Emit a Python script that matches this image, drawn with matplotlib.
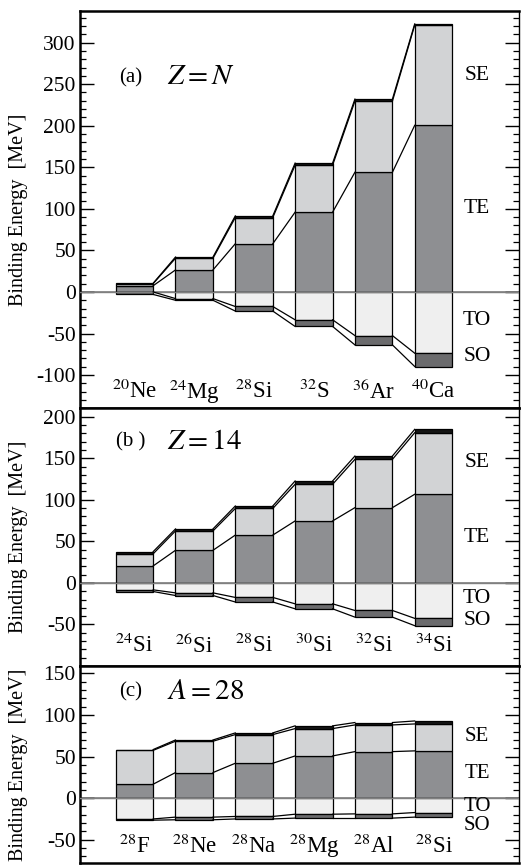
import matplotlib
matplotlib.use("Agg")
import matplotlib.pyplot as plt
from matplotlib.ticker import MultipleLocator
import numpy as np

plt.rcParams['font.family'] = 'serif'
plt.rcParams['font.serif'] = ['Liberation Serif', 'DejaVu Serif']
plt.rcParams['mathtext.fontset'] = 'stix'

# Panel (a) Z = N : boundaries of each stacked bar (MeV)
nucleiA = [r'$^{20}$Ne', r'$^{24}$Mg', r'$^{28}$Si', r'$^{32}$S', r'$^{36}$Ar', r'$^{40}$Ca']
teTopA = [7.5, 26.5, 58.0, 96.0, 144.0, 200.5]
seTopA = [10.0, 40.5, 89.5, 152.5, 229.5, 321.0]
totalA = [10.5, 42.0, 91.5, 155.0, 232.0, 322.5]
toBotA = [0.0, -8.0, -17.5, -33.5, -52.5, -73.7]
soBotA = [-3.0, -10.0, -23.0, -41.5, -63.7, -89.7]

# Panel (b) Z = 14
nucleiB = [r'$^{24}$Si', r'$^{26}$Si', r'$^{28}$Si', r'$^{30}$Si', r'$^{32}$Si', r'$^{34}$Si']
teTopB = [20.4, 39.2, 57.5, 74.5, 90.5, 106.6]
seTopB = [35.0, 62.5, 89.5, 118.6, 148.6, 180.7]
totalB = [37.6, 64.9, 92.5, 122.6, 152.6, 184.7]
toBotB = [-8.4, -12.0, -17.5, -25.2, -33.2, -42.7]
soBotB = [-10.4, -15.2, -23.0, -31.2, -41.2, -51.5]

# Panel (c) A = 28
nucleiC = [r'$^{28}$F', r'$^{28}$Ne', r'$^{28}$Na', r'$^{28}$Mg', r'$^{28}$Al', r'$^{28}$Si']
teTopC = [16.8, 30.8, 42.0, 50.8, 56.0, 56.9]
seTopC = [57.5, 68.5, 76.5, 83.7, 88.1, 89.3]
totalC = [58.5, 70.0, 78.5, 87.0, 91.0, 92.9]
toBotC = [-25.0, -22.8, -22.0, -19.3, -18.9, -17.3]
soBotC = [-26.5, -26.0, -25.0, -24.0, -24.0, -22.8]

termNames = ['SE', 'TE', 'TO', 'SO']

colTE = '#8e8f92'
colSE = '#d2d3d5'
colTO = '#efefef'
colSO = '#6b6b6d'
colBand = '#151515'

panels = [
    dict(tag='(a)', title=r'$Z = N$', nuclei=nucleiA, te=teTopA, se=seTopA, tot=totalA,
         to=toBotA, so=soBotA, ylim=(-140, 338), ticks=(-100, 300),
         titleY=258, labelY=-120, termY=[260, 100, -34, -78], termSize=15.5),
    dict(tag='(b )', title=r'$Z = 14$', nuclei=nucleiB, te=teTopB, se=seTopB, tot=totalB,
         to=toBotB, so=soBotB, ylim=(-100, 210), ticks=(-50, 200),
         titleY=170, labelY=-75, termY=[145, 55, -19, -45], termSize=15.5),
    dict(tag='(c)', title=r'$A = 28$', nuclei=nucleiC, te=teTopC, se=seTopC, tot=totalC,
         to=toBotC, so=soBotC, ylim=(-78, 159), ticks=(-50, 150),
         titleY=128, labelY=-58, termY=[74, 30, -10, -33], termSize=15),
]

heights = [p['ylim'][1] - p['ylim'][0] for p in panels]

fig = plt.figure(figsize=(5.21, 8.65), dpi=100)
gs = fig.add_gridspec(3, 1, height_ratios=heights, hspace=0,
                      left=80 / 521, right=519 / 521, top=1 - 11 / 865, bottom=2 / 865)

width = 0.627

for k, p in enumerate(panels):
    ax = fig.add_subplot(gs[k])
    x = np.arange(1, len(p['nuclei']) + 1)
    te = np.array(p['te'])
    se = np.array(p['se'])
    tot = np.array(p['tot'])
    to = np.array(p['to'])
    so = np.array(p['so'])

    ax.axhline(0, color='#808080', lw=1.2, zorder=1)

    # stacked bars
    ax.bar(x, te, width, bottom=0, color=colTE, edgecolor='black', lw=0.9, zorder=2)
    ax.bar(x, se - te, width, bottom=te, color=colSE, edgecolor='black', lw=0.9, zorder=2)
    ax.bar(x, tot - se, width, bottom=se, color=colBand, edgecolor='black', lw=0.9, zorder=2)
    ax.bar(x, to, width, bottom=0, color=colTO, edgecolor='black', lw=0.9, zorder=2)
    ax.bar(x, so - to, width, bottom=to, color=colSO, edgecolor='black', lw=0.9, zorder=2)
    ax.axhline(0, color='#808080', lw=1.0, zorder=3)

    # connecting lines between neighbouring bars
    for vals in (tot, se, te, to, so):
        for i in range(len(x) - 1):
            ax.plot([x[i] + width / 2, x[i + 1] - width / 2], [vals[i], vals[i + 1]],
                    color='black', lw=0.9, zorder=3)

    ax.set_xlim(0.09, 7.43)
    ax.set_ylim(*p['ylim'])
    ax.set_xticks([])
    ax.set_yticks(np.arange(p['ticks'][0], p['ticks'][1] + 1, 50))
    ax.yaxis.set_minor_locator(MultipleLocator(10))
    ax.tick_params(axis='y', which='major', direction='in', length=10, width=1.0,
                   labelsize=15.5, pad=3, right=True)
    ax.tick_params(axis='y', which='minor', direction='in', length=4.5, width=0.9, right=True)
    ax.set_yticklabels([str(t) for t in ax.get_yticks().astype(int)])

    for s in ['left', 'top', 'bottom']:
        ax.spines[s].set_linewidth(1.8)
    ax.spines['right'].set_linewidth(1.0)

    ax.set_ylabel('Binding Energy  [MeV]', fontsize=14.5)
    ax.yaxis.set_label_coords(-0.118, 0.5)

    for xi, name in zip(x, p['nuclei']):
        ax.text(xi, p['labelY'], name, ha='center', va='center', fontsize=16.5)

    for name, yv in zip(termNames, p['termY']):
        ax.text(6.73, yv, name, ha='center', va='center', fontsize=p['termSize'])

    ax.text(0.93, p['titleY'], p['tag'], ha='center', va='center', fontsize=15)
    ax.text(1.54, p['titleY'], p['title'], ha='left', va='center', fontsize=21)

fig.savefig('out.png', dpi=100)
